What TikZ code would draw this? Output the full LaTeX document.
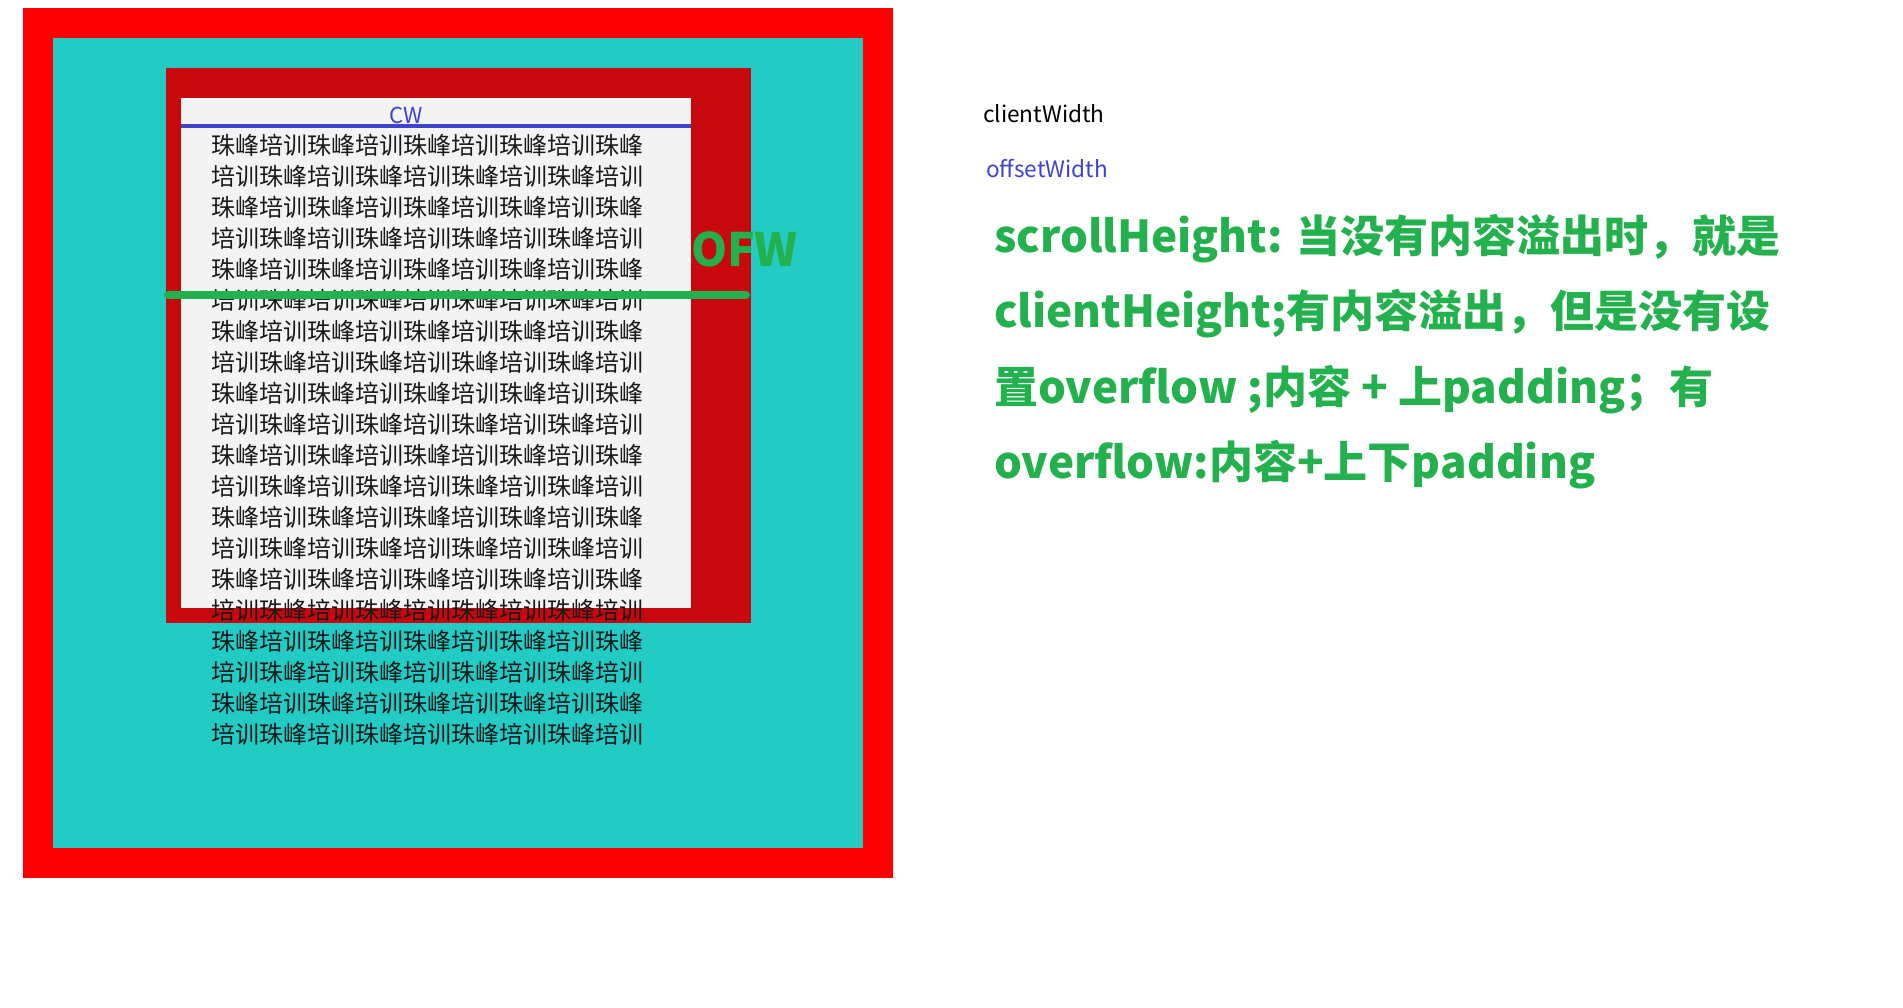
\documentclass[tikz,border=0pt]{standalone}
\usepackage{fontspec}
\setmainfont{Noto Sans CJK SC}
\definecolor{outerred}{HTML}{FF0000}
\definecolor{tealbg}{HTML}{22CCC5}
\definecolor{darkred}{HTML}{C9080D}
\definecolor{paper}{HTML}{F3F3F3}
\definecolor{cwblue}{HTML}{4043CC}
\definecolor{grn}{HTML}{22B14C}
\def\lineA{珠峰培训珠峰培训珠峰培训珠峰培训珠峰}
\def\lineB{培训珠峰培训珠峰培训珠峰培训珠峰培训}
\tikzset{
  body/.style={inner sep=0pt, anchor=base west, text=black!90, font=\fontsize{24}{24}\selectfont},
  label/.style={inner sep=0pt, anchor=base west, font=\fontsize{22.6}{22.6}\selectfont},
  bigtext/.style={inner sep=0pt, anchor=base west, text=grn, font=\bfseries\fontsize{44}{44}\selectfont},
}
\begin{document}
\begin{tikzpicture}[x=1pt,y=-1pt]
\useasboundingbox (0,0) rectangle (1903,1007);
\fill[white] (0,0) rectangle (1903,1007);
\fill[outerred] (23,8) rectangle (893,878);
\fill[tealbg] (53,38) rectangle (863,848);
\fill[darkred] (166,68) rectangle (751,623);
\fill[paper] (181,98) rectangle (691,608);
% client width line
\coordinate (cwL) at (181,126);
\coordinate (cwR) at (690.5,126);
\draw[cwblue, line width=4.5pt] (cwL) -- (cwR);
\node[inner sep=0pt, anchor=base, text=cwblue, font=\fontsize{22}{22}\selectfont] (cw) at (406,123) {CW};
% content lines
\foreach \i in {0,...,19}{
  \node[body] (t\i) at (211,154+31*\i) {\ifodd\i\lineB\else\lineA\fi};
}
% offset width line
\coordinate (ofL) at (168,295);
\coordinate (ofR) at (746,295);
\draw[grn, line width=8pt, line cap=round] (ofL) -- (ofR);
\node[inner sep=0pt, anchor=base west, text=grn, font=\bfseries\fontsize{46}{46}\selectfont] (ofw) at (691,266) {OFW};
% right side labels
\node[label, text=black] (clientw) at (983,122) {clientWidth};
\node[label, text=cwblue] (offsetw) at (986,177) {offsetWidth};
\node[bigtext] (g1) at (994,252) {scrollHeight: 当没有内容溢出时，就是};
\node[bigtext] (g2) at (994,327) {clientHeight;有内容溢出，但是没有设};
\node[bigtext] (g3) at (994,403) {置overflow ;内容 + 上padding；有};
\node[bigtext] (g4) at (994,478) {overflow:内容+上下padding};
\end{tikzpicture}
\end{document}
